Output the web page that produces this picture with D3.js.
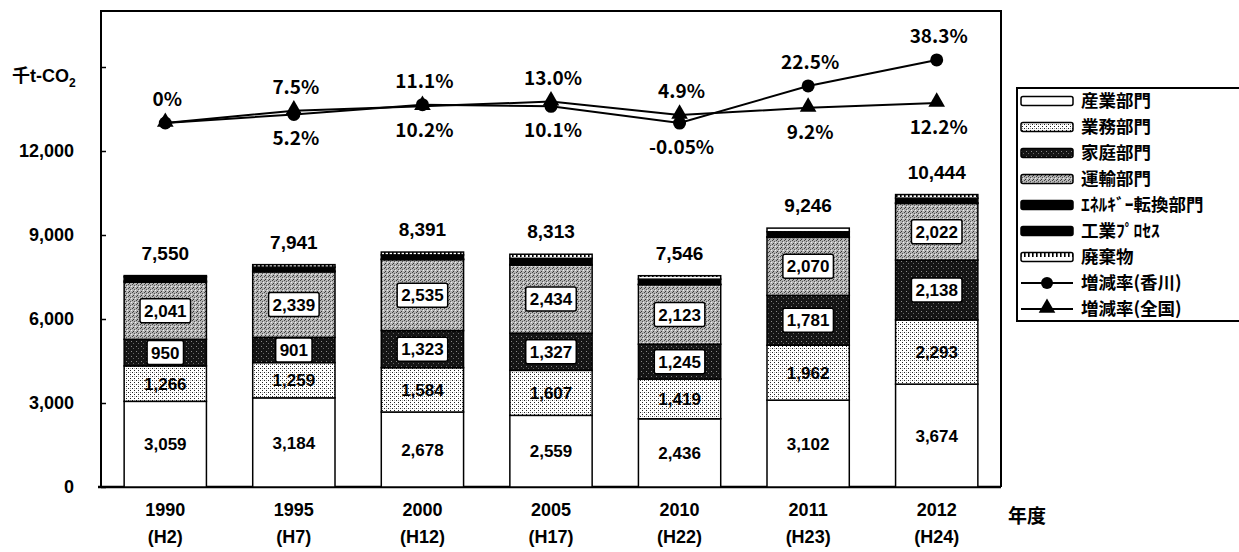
<!DOCTYPE html>
<html lang="ja">
<head>
<meta charset="UTF-8">
<script src="https://d3js.org/d3.v7.min.js"></script>
<title>CO2 emissions</title>
<style>
  body { margin: 0; background: #fff; }
  text { font-family: "Liberation Sans", Arial, sans-serif; font-weight: bold; fill: #000; }
  .jp { font-family: "Noto Sans CJK JP", sans-serif; font-weight: bold; }
</style>
</head>
<body>
<div id="my_chart"></div>
<script>
// data
var years = ["1990", "1995", "2000", "2005", "2010", "2011", "2012"];
var eras = ["(H2)", "(H7)", "(H12)", "(H17)", "(H22)", "(H23)", "(H24)"];
var sangyo = [3059, 3184, 2678, 2559, 2436, 3102, 3674];
var gyomu = [1266, 1259, 1584, 1607, 1419, 1962, 2293];
var katei = [950, 901, 1323, 1327, 1245, 1781, 2138];
var unyu = [2041, 2339, 2535, 2434, 2123, 2070, 2022];
var energy = [40, 30, 20, 20, 20, 20, 20];
var kogyo = [150, 140, 150, 220, 180, 180, 170];
var haiki = [44, 88, 101, 146, 123, 131, 127];
var totals = [7550, 7941, 8391, 8313, 7546, 9246, 10444];
var rateKagawa = [0, 5.2, 11.1, 10.1, -0.05, 22.5, 38.3];
var rateZenkoku = [0, 7.5, 10.2, 13.0, 4.9, 9.2, 12.2];
var yTicks = [0, 3000, 6000, 9000, 12000, 15000];

var keys = ["sangyo", "gyomu", "katei", "unyu", "energy", "kogyo", "haiki"];
var names = ["産業部門", "業務部門", "家庭部門", "運輸部門", "ｴﾈﾙｷﾞｰ転換部門", "工業ﾌﾟﾛｾｽ", "廃棄物"];
var fills = ["#fff", "url(#p-gyomu)", "url(#p-katei)", "url(#p-unyu)", "#000", "#000", "url(#p-haiki)"];

var rows = years.map(function (y, i) {
    return { year: y, sangyo: sangyo[i], gyomu: gyomu[i], katei: katei[i], unyu: unyu[i],
             energy: energy[i], kogyo: kogyo[i], haiki: haiki[i] };
});

var W = 1239, H = 552;
var plot = { left: 101, right: 1001, top: 11, bottom: 487 };

var svg = d3.select("#my_chart").append("svg")
    .attr("width", W).attr("height", H);

// patterns
var defs = svg.append("defs");
var pg = defs.append("pattern").attr("id", "p-gyomu").attr("patternUnits", "userSpaceOnUse")
    .attr("width", 4).attr("height", 4);
pg.append("rect").attr("width", 4).attr("height", 4).attr("fill", "#fff");
pg.append("rect").attr("x", 0).attr("y", 0).attr("width", 1).attr("height", 1).attr("fill", "#222");
pg.append("rect").attr("x", 2).attr("y", 2).attr("width", 1).attr("height", 1).attr("fill", "#222");
pg.append("rect").attr("x", 2).attr("y", 0).attr("width", 1).attr("height", 1).attr("fill", "#aaa");

var pk = defs.append("pattern").attr("id", "p-katei").attr("patternUnits", "userSpaceOnUse")
    .attr("width", 5).attr("height", 5);
pk.append("rect").attr("width", 5).attr("height", 5).attr("fill", "#151515");
pk.append("rect").attr("x", 1).attr("y", 1).attr("width", 1).attr("height", 1).attr("fill", "#888");
pk.append("rect").attr("x", 3).attr("y", 3).attr("width", 1).attr("height", 1).attr("fill", "#666");

var pu = defs.append("pattern").attr("id", "p-unyu").attr("patternUnits", "userSpaceOnUse")
    .attr("width", 4).attr("height", 4);
pu.append("rect").attr("width", 4).attr("height", 4).attr("fill", "#b4b4b4");
pu.append("rect").attr("x", 0).attr("y", 0).attr("width", 1).attr("height", 1).attr("fill", "#444");
pu.append("rect").attr("x", 2).attr("y", 1).attr("width", 1).attr("height", 1).attr("fill", "#555");
pu.append("rect").attr("x", 1).attr("y", 3).attr("width", 1).attr("height", 1).attr("fill", "#333");
pu.append("rect").attr("x", 3).attr("y", 2).attr("width", 1).attr("height", 1).attr("fill", "#eee");

var ph = defs.append("pattern").attr("id", "p-haiki").attr("patternUnits", "userSpaceOnUse")
    .attr("width", 4).attr("height", 10);
ph.append("rect").attr("width", 4).attr("height", 10).attr("fill", "#fff");
ph.append("rect").attr("x", 0).attr("y", 1).attr("width", 1.6).attr("height", 6).attr("fill", "#000");

// scales
var x = d3.scaleBand().domain(years).range([plot.left, plot.right])
    .paddingInner(0.36).paddingOuter(0.18);
var y = d3.scaleLinear().domain([0, 17000]).range([plot.bottom, plot.top]);
var y2 = d3.scaleLinear().domain([-221, 68]).range([plot.bottom, plot.top]);

// frame
svg.append("path")
    .attr("d", "M" + plot.left + "," + plot.bottom + "V" + plot.top + "H" + plot.right + "V" + plot.bottom)
    .attr("fill", "none").attr("stroke", "#000").attr("stroke-width", 2);
svg.append("line").attr("x1", plot.left - 3).attr("x2", plot.right)
    .attr("y1", plot.bottom).attr("y2", plot.bottom)
    .attr("stroke", "#000").attr("stroke-width", 2.5);

// y axis
var yAxis = svg.append("g").attr("transform", "translate(" + plot.left + ",0)")
    .call(d3.axisLeft(y).tickValues(yTicks).tickSizeInner(-5).tickSizeOuter(0).tickPadding(27)
        .tickFormat(function (d) { return d === 15000 ? "" : d3.format(",")(d); }));
yAxis.select(".domain").remove();
yAxis.selectAll("line").attr("stroke-width", 1.5);
yAxis.selectAll("text").style("font-size", "18px")
    .style("font-family", "'Liberation Sans', Arial, sans-serif").style("font-weight", "bold");

// unit label
var unit = svg.append("text").attr("x", 12).attr("y", 82).style("font-size", "18px");
unit.append("tspan").attr("class", "jp").text("千");
unit.append("tspan").text("t-CO");
unit.append("tspan").attr("dy", 5).style("font-size", "12px").text("2");

// stacked bars
var stacked = d3.stack().keys(keys)(rows);
var layers = svg.selectAll("g.layer").data(stacked).enter().append("g")
    .attr("class", "layer").attr("fill", function (d, i) { return fills[i]; });
layers.selectAll("rect").data(function (d) { return d; }).enter().append("rect")
    .attr("x", function (d) { return x(d.data.year); })
    .attr("y", function (d) { return y(d[1]); })
    .attr("width", x.bandwidth())
    .attr("height", function (d) { return y(d[0]) - y(d[1]); })
    .attr("stroke", "#000").attr("stroke-width", 1.5);

// segment labels (first 4 series)
var labelG = svg.append("g");
stacked.slice(0, 4).forEach(function (layer, li) {
    layer.forEach(function (d) {
        var cx = x(d.data.year) + x.bandwidth() / 2;
        var cy = (y(d[0]) + y(d[1])) / 2;
        var g = labelG.append("g");
        var t = g.append("text").attr("x", cx).attr("y", cy).attr("dy", "0.36em")
            .attr("text-anchor", "middle").style("font-size", "17px")
            .text(d3.format(",")(d[1] - d[0]));
        if (li >= 2) {
            var w = t.node().getComputedTextLength();
            g.insert("rect", "text").attr("x", cx - w / 2 - 4).attr("y", cy - 12)
                .attr("width", w + 8).attr("height", 24).attr("rx", 2)
                .attr("fill", "#fff").attr("stroke", "#000").attr("stroke-width", 1.5);
        }
    });
});

// totals
svg.append("g").selectAll("text").data(rows).enter().append("text")
    .attr("x", function (d) { return x(d.year) + x.bandwidth() / 2; })
    .attr("y", function (d, i) { return y(totals[i]) - 16; })
    .attr("text-anchor", "middle").style("font-size", "19px")
    .text(function (d, i) { return d3.format(",")(totals[i]); });

// x labels
var xl = svg.append("g");
years.forEach(function (yr, i) {
    var cx = x(yr) + x.bandwidth() / 2;
    xl.append("text").attr("x", cx).attr("y", 516).attr("text-anchor", "middle")
        .style("font-size", "18px").text(yr);
    xl.append("text").attr("x", cx).attr("y", 543).attr("text-anchor", "middle")
        .style("font-size", "18px").text(eras[i]);
});
svg.append("text").attr("class", "jp").attr("x", 1008).attr("y", 523)
    .style("font-size", "19px").text("年度");

// lines
function cxAt(i) { return x(years[i]) + x.bandwidth() / 2; }
var line = d3.line().x(function (d, i) { return cxAt(i); }).y(function (d) { return y2(d); });
svg.append("path").datum(rateZenkoku).attr("d", line)
    .attr("fill", "none").attr("stroke", "#000").attr("stroke-width", 2);
svg.append("path").datum(rateKagawa).attr("d", line)
    .attr("fill", "none").attr("stroke", "#000").attr("stroke-width", 2);
var tri = d3.symbol().type(d3.symbolTriangle).size(120);
svg.append("g").selectAll("path").data(rateZenkoku).enter().append("path")
    .attr("d", tri)
    .attr("transform", function (d, i) { return "translate(" + cxAt(i) + "," + (y2(d) - 1) + ")"; })
    .attr("fill", "#000");
svg.append("g").selectAll("circle").data(rateKagawa).enter().append("circle")
    .attr("cx", function (d, i) { return cxAt(i); })
    .attr("cy", function (d) { return y2(d); })
    .attr("r", 6.5).attr("fill", "#000");

// rate labels
var pct = svg.append("g");
function fmtPct(v) {
    if (v === 0) return "0%";
    if (Math.abs(v) < 0.1) return v + "%";
    return v.toFixed(1) + "%";
}
years.forEach(function (yr, i) {
    var a = rateKagawa[i], b = rateZenkoku[i];
    var hi = Math.max(a, b), lo = Math.min(a, b);
    pct.append("text").attr("class", "jp").attr("x", cxAt(i) + 2).attr("y", y2(hi) - 17)
        .attr("text-anchor", "middle").style("font-size", "19px").text(fmtPct(hi));
    if (a !== b) {
        pct.append("text").attr("class", "jp").attr("x", cxAt(i) + 2).attr("y", y2(lo) + 31)
            .attr("text-anchor", "middle").style("font-size", "19px").text(fmtPct(lo));
    }
});

// legend
var lg = svg.append("g");
lg.append("path").attr("d", "M" + (W + 5) + ",88H1017V321H" + (W + 5))
    .attr("fill", "#fff").attr("stroke", "#000").attr("stroke-width", 2);
var rowY = function (k) { return 101 + k * 26; };
names.forEach(function (n, k) {
    lg.append("rect").attr("x", 1021).attr("y", rowY(k) - 4.5).attr("width", 52).attr("height", 9)
        .attr("rx", 2).attr("fill", fills[k]).attr("stroke", "#000").attr("stroke-width", 1.5);
    lg.append("text").attr("class", "jp").attr("x", 1081).attr("y", rowY(k)).attr("dy", "0.36em")
        .style("font-size", "17.5px").text(n);
});
var lineNames = ["増減率(香川)", "増減率(全国)"];
lineNames.forEach(function (n, j) {
    var ly = rowY(7 + j);
    lg.append("line").attr("x1", 1021).attr("x2", 1073).attr("y1", ly).attr("y2", ly)
        .attr("stroke", "#000").attr("stroke-width", 2);
    if (j === 0) {
        lg.append("circle").attr("cx", 1047).attr("cy", ly).attr("r", 6).attr("fill", "#000");
    } else {
        lg.append("path").attr("d", tri).attr("transform", "translate(1047," + (ly - 1) + ")").attr("fill", "#000");
    }
    lg.append("text").attr("class", "jp").attr("x", 1081).attr("y", ly).attr("dy", "0.36em")
        .style("font-size", "17.5px").text(n);
});
</script>
</body>
</html>
